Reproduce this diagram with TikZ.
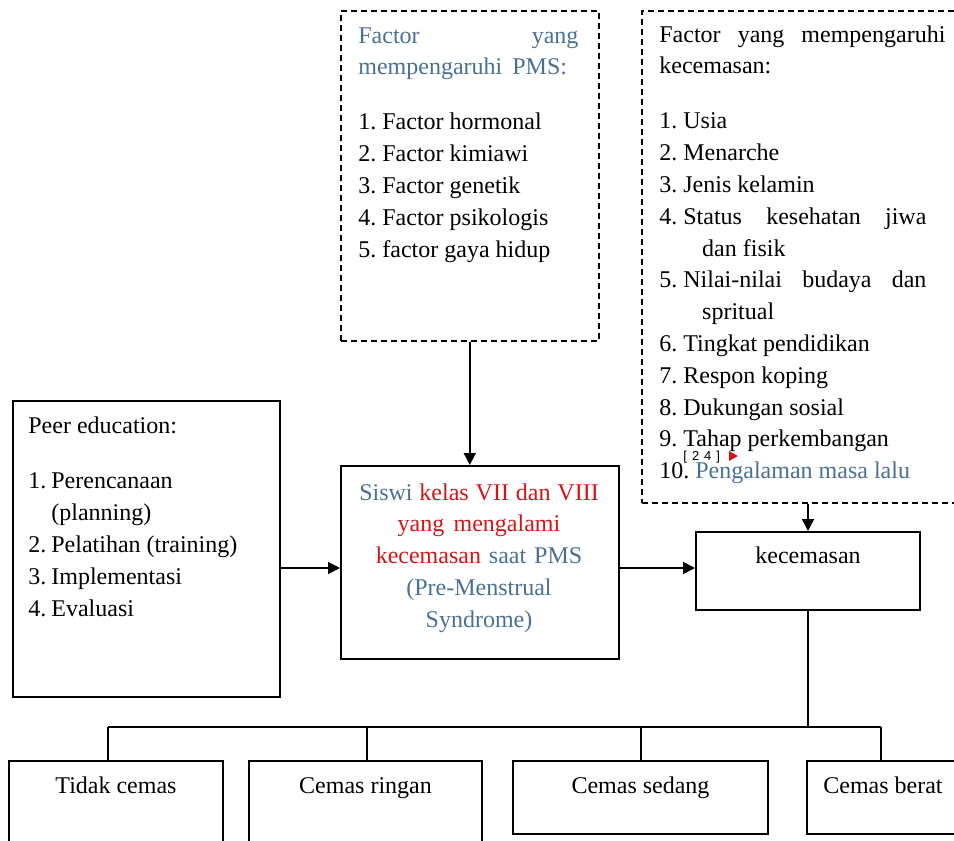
\documentclass[tikz,border=0pt]{standalone}
\usepackage{fontspec}
\setmainfont{Liberation Serif}
\setsansfont{Liberation Sans}
\usetikzlibrary{calc}
\usetikzlibrary{arrows.meta}
\definecolor{steel}{RGB}{74,112,150}
\definecolor{crimson}{RGB}{210,22,22}
\newcommand{\jline}[2]{\makebox[#1][s]{\spaceskip=0pt\relax #2}}

\begin{document}
\begin{tikzpicture}[x=.5pt, y=-.5pt,
  box/.style={draw, line width=1pt, anchor=north west, inner sep=0pt},
  dbox/.style={box, line width=.8pt, dash pattern=on 3pt off 2pt},
  txt/.style={anchor=base west, inner sep=0pt, align=left, font=\fontsize{12}{15.9}\selectfont\frenchspacing,
    execute at begin node={\spaceskip=0pt\xspaceskip=0pt\relax}},
  lbl/.style={txt, anchor=base},
  arr/.style={line width=.9pt, -{Triangle[length=6pt,width=6pt]}}]
\useasboundingbox (0,0) rectangle (954,841);

% boxes
\node[dbox, minimum width=129pt, minimum height=165pt] (pmsf) at (340,10) {};
\node[dbox, minimum width=160pt, minimum height=246pt] (kecf) at (641,10) {};
\node[box, minimum width=133.5pt, minimum height=148pt] (peer) at (12,400) {};
\node[box, minimum width=139pt, minimum height=96.5pt] (siswi) at (340,465) {};
\node[box, minimum width=112pt, minimum height=39pt] (kec) at (695,531) {};
\node[box, minimum width=107pt, minimum height=50pt] (tidak) at (8,760) {};
\node[box, minimum width=116.5pt, minimum height=50pt] (ringan) at (248,760) {};
\node[box, minimum width=127.5pt, minimum height=36.5pt] (sedang) at (512,760) {};
\node[box, minimum width=76pt, minimum height=36.5pt] (berat) at (806,760) {};

% texts
\node[txt, text width=112pt] (pmsf-t) at (358,43) {%
  \textcolor{steel}{\jline{110pt}{Factor yang}}\\
  \textcolor{steel}{mempengaruhi\hspace{5pt}PMS:}\\[11.6pt]
  1. Factor hormonal\\
  2. Factor kimiawi\\
  3. Factor genetik\\
  4. Factor psikologis\\
  5. factor gaya hidup};
\node[txt, text width=145pt] (kecf-t) at (659,42) {%
  \jline{143pt}{Factor yang mempengaruhi}\\
  kecemasan:\\[11.6pt]
  1. Usia\\
  2. Menarche\\
  3. Jenis kelamin\\
  4. \jline{121.5pt}{Status kesehatan jiwa}\\
  \hspace*{21.4pt}dan fisik\\
  5. \jline{121.5pt}{Nilai-nilai budaya dan}\\
  \hspace*{21.4pt}spritual\\
  6. Tingkat pendidikan\\
  7. Respon koping\\
  8. Dukungan sosial\\
  9. Tahap perkembangan\\
  10. \textcolor{steel}{Pengalaman masa lalu}};
\node[txt, text width=125pt] (peer-t) at (28,433) {%
  Peer education:\\[12pt]
  \makebox[11.5pt][l]{1.}Perencanaan\\
  \hspace*{11.5pt}(planning)\\
  \makebox[11.5pt][l]{2.}Pelatihan (training)\\
  \makebox[11.5pt][l]{3.}Implementasi\\
  \makebox[11.5pt][l]{4.}Evaluasi};
\node[lbl, align=center, text width=134pt] (siswi-t) at (479,500) {%
  \textcolor{steel}{Siswi} \textcolor{crimson}{kelas VII dan VIII}\\
  \textcolor{crimson}{yang mengalami}\\
  \textcolor{crimson}{kecemasan} \textcolor{steel}{saat PMS}\\
  \textcolor{steel}{(Pre-Menstrual}\\
  \textcolor{steel}{Syndrome)}};
\node[lbl] (kec-t) at ($(kec.north)+(0,32)$) {kecemasan};
\foreach \n/\t in {tidak/Tidak cemas, ringan/Cemas ringan, sedang/Cemas sedang, berat/Cemas berat}
  \node[lbl] (\n-t) at ($(\n.north)+(0,33)$) {\t};

% comment marker
\node[anchor=base west, inner sep=0pt, font=\fontsize{6.5}{6.5}\sffamily] (ref) at (683,460) {[\hspace{2.5pt}2\hspace{2.5pt}4\hspace{2.5pt}]};
\fill[crimson] (729,451) -- (738,456) -- (729,461) -- cycle;

% connectors
\coordinate (midrow) at (0,568);
\draw[arr] (pmsf.south) -- (pmsf.south |- siswi.north);
\draw[arr] (peer.east |- midrow) -- (siswi.west |- midrow);
\draw[arr] (siswi.east |- midrow) -- (kec.west |- midrow);
\draw[arr] (kec.north |- kecf.south) -- (kec.north);

\coordinate (bus) at (806,727);
\draw[line width=.8pt] (kec.south) -- (kec.south |- bus);
\draw[line width=.8pt] (108,727) -- (881,727);
\foreach \n/\x in {tidak/108, ringan/367, sedang/641, berat/881} {
  \coordinate (s) at (\x,727);
  \draw[line width=.8pt] (s) -- (s |- \n.north);
}

\end{tikzpicture}
\end{document}
